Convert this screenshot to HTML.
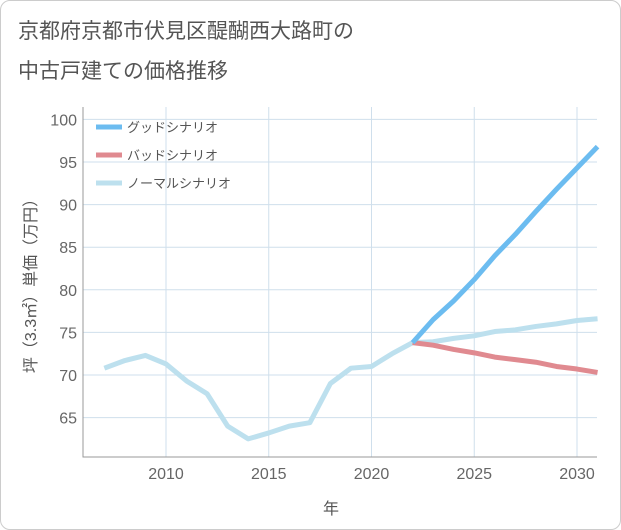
<!DOCTYPE html>
<html><head><meta charset="utf-8"><style>
body{margin:0;background:#fff;font-family:"Liberation Sans","Noto Sans CJK JP",sans-serif;}
#card{position:absolute;left:0;top:0;width:619px;height:528px;border:1px solid #ccc;border-radius:10px;background:#fff;}
</style></head><body>
<div id="card">
<svg id="chart" width="621" height="530" style="position:absolute;left:-1px;top:-1px">
<text x="18" y="38" font-size="21" fill="#555">京都府京都市伏見区醍醐西大路町の</text>
<text x="18" y="78" font-size="21" fill="#555">中古戸建ての価格推移</text>
<g id="grid"></g><g id="series"></g><g id="legend"></g>
<text x="331" y="514" font-size="16" fill="#555" text-anchor="middle">年</text>
<text transform="translate(36,282) rotate(-90)" font-size="16" fill="#555" text-anchor="middle">坪（3.3㎡）単価（万円）</text>
</svg></div>
<script>
const years=[2007,2008,2009,2010,2011,2012,2013,2014,2015,2016,2017,2018,2019,2020,2021,2022,2023,2024,2025,2026,2027,2028,2029,2030,2031];
const normal=[70.8,71.7,72.3,71.3,69.3,67.8,64,62.5,63.2,64,64.4,69,70.8,71,72.5,73.8,73.9,74.3,74.6,75.1,75.3,75.7,76,76.4,76.6];
const futureYears=[2022,2023,2024,2025,2026,2027,2028,2029,2030,2031];
const good=[73.8,76.5,78.7,81.2,84,86.5,89.2,91.8,94.3,96.8];
const bad=[73.8,73.5,73,72.6,72.1,71.8,71.5,71,70.7,70.3];
const yTicks=[65,70,75,80,85,90,95,100];
const xTicks=[2010,2015,2020,2025,2030];
const legendLabels=["グッドシナリオ","バッドシナリオ","ノーマルシナリオ"];
const NS="http://www.w3.org/2000/svg";
const L=83,R=597,T=107,B=457;
const x=v=>166+(v-2010)*20.55;
const y=v=>375-(v-70)*8.52;
function mk(tag,attrs,parent){const e=document.createElementNS(NS,tag);for(const k in attrs)e.setAttribute(k,attrs[k]);parent.appendChild(e);return e;}
const g=document.getElementById('grid');
xTicks.forEach(v=>{const l=mk('line',{x1:x(v),x2:x(v),y1:T,y2:B,stroke:'#cfdfec'},g);

});
yTicks.forEach(v=>{const l=mk('line',{x1:L,x2:R,y1:y(v),y2:y(v),stroke:'#cfdfec'},g);

});
const ax=mk('path',{d:`M${L},${T}V${B}H${R}`,fill:'none',stroke:'#999'},g);


yTicks.forEach(v=>{const t=mk('text',{x:L-6,y:y(v)+6,'font-size':16,fill:'#666','text-anchor':'end'},g);t.textContent=v;

});
xTicks.forEach(v=>{const t=mk('text',{x:x(v),y:479,'font-size':16,fill:'#666','text-anchor':'middle'},g);t.textContent=v;

});
const s=document.getElementById('series');
function line(xs,vs,color,name){const p=mk('polyline',{points:xs.map((a,i)=>x(a)+','+y(vs[i])).join(' '),fill:'none',stroke:color,'stroke-width':5,'stroke-linejoin':'round'},s);

}
line(years,normal,'#bde0ee','normal-line');
line(futureYears,bad,'#e08a90','bad-line');
line(futureYears,good,'#6cbcf0','good-line');
const colors=['#6cbcf0','#e08a90','#bde0ee'];
const lg=document.getElementById('legend');
legendLabels.forEach((lab,i)=>{const yy=127+i*28;
const l=mk('line',{x1:96,x2:122,y1:yy,y2:yy,stroke:colors[i],'stroke-width':5},lg);


const t=mk('text',{x:127,y:yy+5,'font-size':13,fill:'#555'},lg);t.textContent=lab;

});
</script>
</body></html>
